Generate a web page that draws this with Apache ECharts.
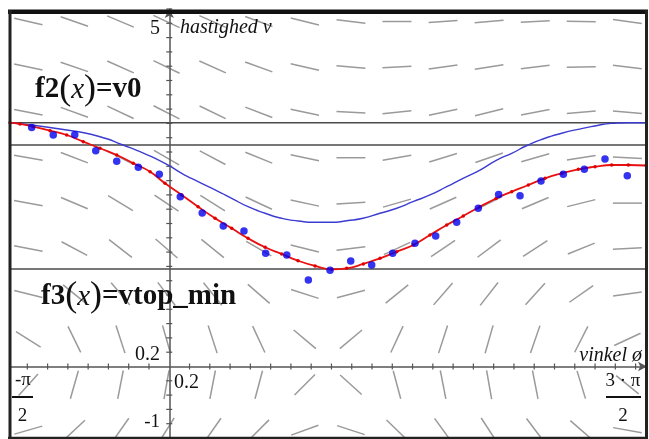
<!DOCTYPE html>
<html>
<head>
<meta charset="utf-8">
<script src="https://cdn.jsdelivr.net/npm/echarts@6/dist/echarts.min.js"></script>
<style>
html,body{margin:0;padding:0;background:#fff;}
#chart{width:649px;height:439px;}
</style>
</head>
<body>
<div id="chart"></div>
<script>
// ---- window (radians / speed) ----
const xMin = -Math.PI / 2;
const xMax = 3 * Math.PI / 2;
const yMin = -1;
const yMax = 5;

// ---- horizontal reference lines ----
const lineV0 = 3.41;        // f2(x)=v0
const lineMid = 3.098;      // second line
const lineVtopMin = 1.364;  // f3(x)=vtop_min

// ---- blue curve (frictionless) ----
const blueCurveX = [-1.5708, -1.0115, -0.683, -0.456, -0.288, -0.042, 0.123, 0.284, 0.452, 0.616, 0.777, 0.946, 1.109, 1.270, 1.438, 1.602, 1.750, 1.911, 2.078, 2.244, 2.404, 2.572, 2.737, 2.898, 3.065, 3.230, 3.378, 3.539, 3.707, 3.871, 4.032, 4.199, 4.364, 4.525, 4.712];
const blueCurveY = [3.410, 3.308, 3.214, 3.098, 3.004, 2.842, 2.702, 2.585, 2.469, 2.352, 2.235, 2.143, 2.073, 2.035, 2.017, 2.017, 2.039, 2.073, 2.143, 2.213, 2.305, 2.399, 2.515, 2.632, 2.748, 2.888, 2.982, 3.098, 3.192, 3.262, 3.317, 3.364, 3.401, 3.410, 3.410];

// ---- red curve (model with friction) ----
const redCurveX = [-1.5708, -1.472, -1.341, -1.176, -1.0115, -0.848, -0.683, -0.518, -0.355, -0.189, -0.042, 0.123, 0.284, 0.452, 0.616, 0.777, 0.946, 1.109, 1.270, 1.438, 1.602, 1.750, 1.914, 2.079, 2.244, 2.407, 2.572, 2.737, 2.900, 3.065, 3.223, 3.378, 3.542, 3.706, 3.871, 4.035, 4.200, 4.364, 4.528, 4.703];
const redCurveY = [3.410, 3.392, 3.354, 3.298, 3.238, 3.144, 3.052, 2.958, 2.842, 2.724, 2.562, 2.399, 2.235, 2.073, 1.933, 1.793, 1.667, 1.573, 1.480, 1.406, 1.359, 1.373, 1.434, 1.513, 1.606, 1.699, 1.839, 1.979, 2.105, 2.235, 2.350, 2.445, 2.538, 2.632, 2.702, 2.758, 2.794, 2.818, 2.818, 2.811];

// ---- measured points (blue dots) ----
const dotX = [-1.357, -1.144, -0.932, -0.725, -0.518, -0.305, -0.098, 0.109, 0.325, 0.533, 0.737, 0.951, 1.159, 1.372, 1.586, 1.790, 1.997, 2.204, 2.424, 2.628, 2.835, 3.048, 3.249, 3.460, 3.667, 3.887, 4.094, 4.298, 4.518];
const dotY = [3.343, 3.238, 3.241, 3.018, 2.871, 2.786, 2.688, 2.375, 2.147, 1.965, 1.895, 1.583, 1.559, 1.210, 1.345, 1.476, 1.420, 1.583, 1.723, 1.825, 2.017, 2.213, 2.406, 2.389, 2.594, 2.688, 2.758, 2.902, 2.669];

// ---- slope field grid and dash angles (degrees, screen space) ----
const fieldX = [-1.390, -0.936, -0.481, -0.027, 0.428, 0.883, 1.337, 1.792, 2.246, 2.701, 3.155, 3.610, 4.064, 4.519];
const fieldY = [4.825, 4.190, 3.555, 2.920, 2.285, 1.650, 1.015, 0.380, -0.255, -0.890];
const fieldAngles = [
  [-13, -19, -23, -25, -24, -20, -14, -7, 0, 4, 5, 3, -1, -8],
  [-12, -19, -24, -26, -24, -20, -13, -5, 3, 8, 9, 7, 1, -7],
  [-11, -20, -25, -27, -26, -21, -12, -3, 6, 12, 14, 11, 5, -5],
  [-10, -21, -27, -30, -28, -22, -12, 0, 10, 17, 19, 16, 9, -3],
  [-10, -23, -31, -34, -32, -25, -12, 3, 16, 24, 27, 23, 14, 0],
  [-11, -28, -38, -41, -39, -30, -14, 7, 25, 34, 37, 33, 22, 3],
  [-14, -39, -50, -53, -51, -41, -18, 15, 39, 49, 52, 48, 35, 8],
  [-32, -64, -72, -74, -72, -65, -40, 40, 65, 72, 74, 71, 63, 25],
  [48, 74, 79, 80, 79, 75, 45, -42, -75, -79, -80, -79, -73, -39],
  [16, 43, 55, 58, 55, 45, 20, -18, -44, -54, -57, -53, -41, -10]
];

// ---- axis tick step ----
const tickStep = 0.2;

// ---- build ----
const fieldData = [];
fieldY.forEach((v, j) => fieldX.forEach((t, i) => fieldData.push([t, v, fieldAngles[j][i]])));
const xTicks = [];
for (let k = Math.ceil(xMin / tickStep); k <= Math.floor(xMax / tickStep); k++) if (k !== 0) xTicks.push([k * tickStep, 0]);
const yTicks = [];
for (let k = Math.ceil(yMin / tickStep); k <= Math.floor(yMax / tickStep); k++) if (k !== 0) yTicks.push([0, k * tickStep]);

const zip = (a, b) => a.map((v, i) => [v, b[i]]);
const serif = "'Liberation Serif', 'Times New Roman', serif";
const axisColor = '#555';

const chart = echarts.init(document.getElementById('chart'), null, {renderer: 'canvas'});
const hLine = (v) => ({
  type: 'line', data: [[xMin, v], [xMax, v]], symbol: 'none', silent: true, z: 3,
  lineStyle: {color: '#4a4a4a', width: 1.6}, animation: false
});

chart.setOption({
  animation: false,
  backgroundColor: '#fff',
  grid: {left: 10, right: 2, top: 9, bottom: 1, show: false},
  xAxis: {
    type: 'value', min: xMin, max: xMax,
    axisLine: {show: true, onZero: true, symbol: ['none', 'arrow'], symbolSize: [7, 9], lineStyle: {color: axisColor, width: 1.5}},
    axisTick: {show: false}, axisLabel: {show: false}, splitLine: {show: false}, z: 4
  },
  yAxis: {
    type: 'value', min: yMin, max: yMax,
    axisLine: {show: true, onZero: true, symbol: ['none', 'arrow'], symbolSize: [7, 9], lineStyle: {color: axisColor, width: 1.5}},
    axisTick: {show: false}, axisLabel: {show: false}, splitLine: {show: false}, z: 4
  },
  series: [
    {
      type: 'custom', data: fieldData, clip: true, z: 1, silent: true,
      encode: {x: 0, y: 1},
      renderItem: (params, api) => {
        const p = api.coord([api.value(0), api.value(1)]);
        const a = api.value(2) * Math.PI / 180;
        const L = 14.5;
        return {type: 'line', shape: {x1: p[0] - L * Math.cos(a), y1: p[1] + L * Math.sin(a), x2: p[0] + L * Math.cos(a), y2: p[1] - L * Math.sin(a)},
          style: {stroke: '#9a9a9a', lineWidth: 1.5}};
      }
    },
    {
      type: 'custom', data: xTicks, clip: false, z: 4, silent: true, encode: {x: 0, y: 1},
      renderItem: (params, api) => {
        const p = api.coord([api.value(0), api.value(1)]);
        return {type: 'line', shape: {x1: p[0], y1: p[1] - 3, x2: p[0], y2: p[1] + 3}, style: {stroke: axisColor, lineWidth: 1.2}};
      }
    },
    {
      type: 'custom', data: yTicks, clip: false, z: 4, silent: true, encode: {x: 0, y: 1},
      renderItem: (params, api) => {
        const p = api.coord([api.value(0), api.value(1)]);
        return {type: 'line', shape: {x1: p[0] - 3, y1: p[1], x2: p[0] + 3, y2: p[1]}, style: {stroke: axisColor, lineWidth: 1.2}};
      }
    },
    hLine(lineV0),
    hLine(lineMid),
    hLine(lineVtopMin),
    {
      type: 'line', data: zip(blueCurveX, blueCurveY), symbol: 'none', smooth: 0.6, z: 5, silent: true,
      lineStyle: {color: '#3c3cd0', width: 1.4}
    },
    {
      type: 'line', data: zip(redCurveX, redCurveY), symbol: 'circle', symbolSize: 3.5, showSymbol: true, smooth: 0.5, z: 6, silent: true,
      itemStyle: {color: '#e00000'}, lineStyle: {color: '#e81010', width: 1.8}
    },
    {
      type: 'scatter', data: zip(dotX, dotY), symbol: 'circle', symbolSize: 7.5, z: 7, silent: true,
      itemStyle: {color: '#0000ee'}
    }
  ],
  graphic: [
    // frame
    {type: 'line', shape: {x1: 8, y1: 11.75, x2: 648, y2: 11.75}, style: {stroke: '#111', lineWidth: 4.5}, z: 100},
    {type: 'line', shape: {x1: 10, y1: 10, x2: 10, y2: 439}, style: {stroke: '#222', lineWidth: 3}, z: 100},
    {type: 'line', shape: {x1: 646.5, y1: 10, x2: 646.5, y2: 439}, style: {stroke: '#222', lineWidth: 3}, z: 100},
    {type: 'line', shape: {x1: 8, y1: 438, x2: 648, y2: 438}, style: {stroke: '#222', lineWidth: 2.5}, z: 100},
    // axis texts
    {type: 'text', x: 160, y: 29, z: 50, style: {text: '5', font: '20px ' + serif, fill: '#111', align: 'right', verticalAlign: 'middle'}},
    {type: 'text', x: 180, y: 28, z: 50, style: {text: 'hastighed v', font: 'italic 20px ' + serif, fill: '#111', align: 'left', verticalAlign: 'middle'}},
    {type: 'text', x: 160, y: 355, z: 50, style: {text: '0.2', font: '20px ' + serif, fill: '#111', align: 'right', verticalAlign: 'middle'}},
    {type: 'text', x: 174, y: 383, z: 50, style: {text: '0.2', font: '20px ' + serif, fill: '#111', align: 'left', verticalAlign: 'middle'}},
    {type: 'text', x: 160, y: 422, z: 50, style: {text: '-1', font: '19px ' + serif, fill: '#111', align: 'right', verticalAlign: 'middle'}},
    {type: 'text', x: 642, y: 356, z: 50, style: {text: 'vinkel ø', font: 'italic 20px ' + serif, fill: '#111', align: 'right', verticalAlign: 'middle'}},
    // -pi/2
    {type: 'text', x: 23, y: 380, z: 50, style: {text: '-π', font: '19px ' + serif, fill: '#111', align: 'center', verticalAlign: 'middle'}},
    {type: 'line', shape: {x1: 12, y1: 397, x2: 33, y2: 397}, style: {stroke: '#111', lineWidth: 2}, z: 50},
    {type: 'text', x: 22.5, y: 416, z: 50, style: {text: '2', font: '19px ' + serif, fill: '#111', align: 'center', verticalAlign: 'middle'}},
    // 3pi/2
    {type: 'text', x: 623, y: 381, z: 50, style: {text: '3 · π', font: '19px ' + serif, fill: '#111', align: 'center', verticalAlign: 'middle'}},
    {type: 'line', shape: {x1: 606, y1: 397, x2: 641, y2: 397}, style: {stroke: '#111', lineWidth: 2}, z: 50},
    {type: 'text', x: 623, y: 416, z: 50, style: {text: '2', font: '19px ' + serif, fill: '#111', align: 'center', verticalAlign: 'middle'}},
    // function labels
    {type: 'text', x: 35, y: 90, z: 50, style: {
      text: '{b|f2}{p|(}{i|x}{p|)}{b|=v0}', align: 'left', verticalAlign: 'middle',
      rich: {
        b: {font: 'bold 29px ' + serif, fill: '#111'},
        p: {font: '36px ' + serif, fill: '#111'},
        i: {font: 'italic 29px ' + serif, fill: '#111'}
      }}},
    {type: 'text', x: 41, y: 297, z: 50, style: {
      text: '{b|f3}{p|(}{i|x}{p|)}{b|=vtop_min}', align: 'left', verticalAlign: 'middle',
      rich: {
        b: {font: 'bold 29px ' + serif, fill: '#111'},
        p: {font: '36px ' + serif, fill: '#111'},
        i: {font: 'italic 29px ' + serif, fill: '#111'}
      }}}
  ]
});
</script>
</body>
</html>
